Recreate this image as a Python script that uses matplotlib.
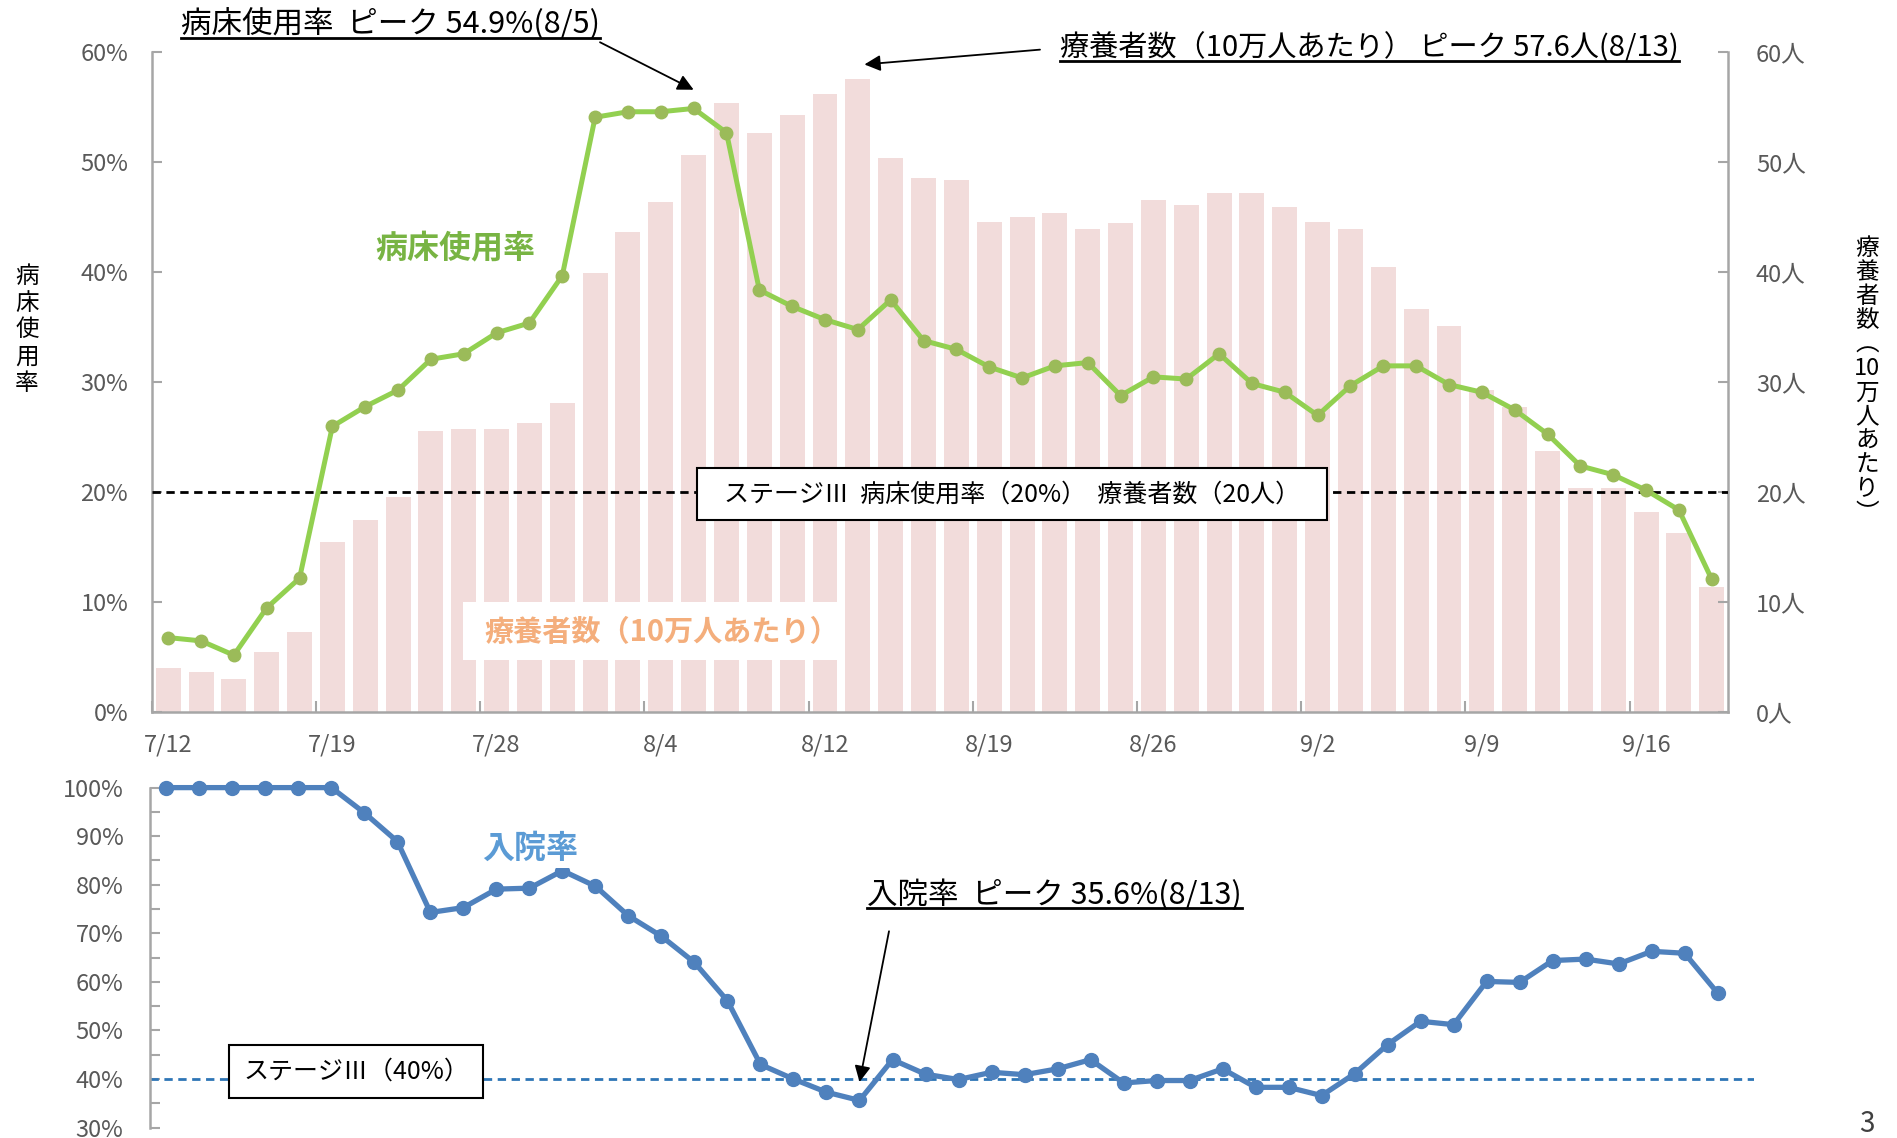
import numpy as np
import matplotlib
matplotlib.use('Agg')
import matplotlib.pyplot as plt
from matplotlib.lines import Line2D
from matplotlib.patches import Rectangle
from matplotlib.ticker import FixedLocator, MultipleLocator

plt.rcParams['font.family'] = ['Noto Sans CJK JP', 'DejaVu Sans']

# business days, 7/12 - 9/21
dates = ['7/12', '7/13', '7/14', '7/15', '7/16', '7/19', '7/20', '7/21',
         '7/26', '7/27', '7/28', '7/29', '7/30', '8/2', '8/3', '8/4', '8/5',
         '8/6', '8/10', '8/11', '8/12', '8/13', '8/16', '8/17', '8/18', '8/19',
         '8/20', '8/23', '8/24', '8/25', '8/26', '8/27', '8/30', '8/31', '9/1',
         '9/2', '9/3', '9/6', '9/7', '9/8', '9/9', '9/10', '9/13', '9/14',
         '9/15', '9/16', '9/17', '9/21']

# 療養者数 (10万人あたり)
ryoyo = [4.0, 3.7, 3.0, 5.5, 7.3, 15.5, 17.5, 19.6, 25.6, 25.8,
         25.8, 26.3, 28.1, 39.9, 43.7, 46.4, 50.7, 55.4, 52.7, 54.3,
         56.2, 57.6, 50.4, 48.6, 48.4, 44.6, 45.0, 45.4, 43.9, 44.5,
         46.6, 46.1, 47.2, 47.2, 45.9, 44.6, 43.9, 40.5, 36.7, 35.1,
         29.3, 27.8, 23.8, 20.4, 20.4, 18.2, 16.3, 11.4]

# 病床使用率 (%)
byosho = [6.8, 6.5, 5.2, 9.5, 12.2, 26.0, 27.8, 29.3, 32.1, 32.6,
          34.5, 35.4, 39.7, 54.1, 54.6, 54.6, 54.9, 52.7, 38.4, 36.9,
          35.7, 34.8, 37.5, 33.8, 33.0, 31.4, 30.4, 31.5, 31.8, 28.8,
          30.5, 30.3, 32.6, 29.9, 29.1, 27.0, 29.7, 31.5, 31.5, 29.8,
          29.1, 27.5, 25.3, 22.4, 21.6, 20.2, 18.4, 12.1]

# 入院率 (%)
nyuin = [100, 100, 100, 100, 100, 100, 94.8, 88.9, 74.3, 75.3,
         79.1, 79.3, 82.9, 79.7, 73.6, 69.4, 64.0, 56.1, 43.0, 40.0,
         37.3, 35.6, 44.0, 41.0, 39.9, 41.4, 40.9, 42.1, 44.0, 39.2,
         39.7, 39.7, 42.1, 38.3, 38.3, 36.6, 41.1, 47.1, 51.9, 51.2,
         60.1, 59.9, 64.4, 64.7, 63.7, 66.3, 65.9, 57.7]

label_every = 5
GRAY = '#A6A6A6'
TXT = '#595959'

x = np.arange(len(dates))

fig = plt.figure(figsize=(18.97, 11.38), dpi=100)

# ---- top chart ----
ax = fig.add_axes([0.080, 0.374, 0.831, 0.580])
ax_r = ax.twinx()
ax.set_zorder(ax_r.get_zorder() + 1)
ax.patch.set_visible(False)

ax_r.bar(x, ryoyo, width=0.76, color='#F2DCDB', zorder=1)
ax.plot(x, byosho, color='#92D050', lw=3.6, marker='o', ms=9,
        mfc='#9BBB59', mec='#9BBB59', zorder=5)
ax.axhline(20, color='black', lw=2, ls=(0, (3, 2)), zorder=3)

ax.set_xlim(-0.5, len(dates) - 0.5)
ax.set_ylim(0, 60)
ax_r.set_ylim(0, 60)

ax.yaxis.set_major_locator(MultipleLocator(10))
ax_r.yaxis.set_major_locator(MultipleLocator(10))
ax.set_yticklabels([f'{int(v)}%' for v in ax.get_yticks()])
ax_r.set_yticklabels([f'{int(v)}人' for v in ax_r.get_yticks()])

ax.xaxis.set_major_locator(FixedLocator(np.arange(-0.5, len(dates) - 1, label_every)))
ax.xaxis.set_minor_locator(FixedLocator(x[::label_every]))
ax.set_xticklabels([])
ax.set_xticklabels(dates[::label_every], minor=True)
ax.tick_params(axis='x', which='major', direction='in', length=8, color=GRAY, width=1.5)
ax.tick_params(axis='x', which='minor', length=0, pad=15, labelsize=17, labelcolor=TXT)
ax.tick_params(axis='y', direction='in', length=7, color=GRAY, width=1.5,
               labelsize=17, labelcolor=TXT, pad=17)
ax_r.tick_params(axis='y', direction='in', length=7, color=GRAY, width=1.5,
                 labelsize=17, labelcolor=TXT, pad=20)

for s in ['top', 'right']:
    ax.spines[s].set_visible(False)
for s in ['top', 'left', 'bottom']:
    ax_r.spines[s].set_visible(False)
for a, s in [(ax, 'left'), (ax, 'bottom'), (ax_r, 'right')]:
    a.spines[s].set_color(GRAY)
    a.spines[s].set_linewidth(1.8)

# ---- bottom chart ----
bx = fig.add_axes([0.079, 0.0091, 0.8456, 0.2988])
bx.plot(x, nyuin, color='#4F81BD', lw=3.8, marker='o', ms=10,
        mfc='#4F81BD', mec='#4F81BD', clip_on=False, zorder=5)
bx.axhline(40, color='#2E75B6', lw=2, ls=(0, (3, 2)), zorder=2)
bx.set_xlim(-0.5, 48.1)
bx.set_ylim(30, 100)
bx.yaxis.set_major_locator(MultipleLocator(10))
bx.yaxis.set_minor_locator(MultipleLocator(5))
bx.set_yticklabels([f'{int(v)}%' for v in bx.get_yticks()])
bx.tick_params(axis='y', which='both', direction='in', length=7, color=GRAY, width=1.5,
               labelsize=17, labelcolor=TXT, pad=19)
bx.set_xticks([])
for s in ['top', 'right', 'bottom']:
    bx.spines[s].set_visible(False)
bx.spines['left'].set_color(GRAY)
bx.spines['left'].set_linewidth(1.8)

W, H = 1897.0, 1138.0


def fx(px):
    return px / W


def fy(py):
    return 1 - py / H


# series labels
fig.text(fx(455), fy(248), '病床使用率', color='#78B443', fontsize=23,
         fontweight='bold', ha='center', va='center')
fig.add_artist(Rectangle((fx(463), fy(660)), fx(374), 58 / H, facecolor='white',
                         edgecolor='none', transform=fig.transFigure, zorder=2))
fig.text(fx(662), fy(632), '療養者数（10万人あたり）', color='#F4AE7C', fontsize=21,
         fontweight='bold', ha='center', va='center', zorder=3)
fig.text(fx(530), fy(849), '入院率', color='#5B9BD5', fontsize=23,
         fontweight='bold', ha='center', va='center',
         bbox=dict(facecolor='white', edgecolor='none', pad=2), zorder=4)

# stage boxes
fig.add_artist(Rectangle((fx(697), fy(520)), fx(630), 52 / H, facecolor='white',
                         edgecolor='black', lw=1.5, transform=fig.transFigure, zorder=6))
fig.text(fx(1012), fy(495), 'ステージⅢ  病床使用率（20%）  療養者数（20人）',
         fontsize=18, ha='center', va='center', zorder=7)
fig.add_artist(Rectangle((fx(229), fy(1098)), fx(254), 53 / H, facecolor='white',
                         edgecolor='black', lw=1.5, transform=fig.transFigure, zorder=6))
fig.text(fx(356), fy(1072), 'ステージⅢ（40%）', fontsize=18, ha='center',
         va='center', zorder=7)

# axis titles (vertical)
fig.text(fx(27), fy(330), '\n'.join('病床使用率'), fontsize=17, ha='center',
         va='center', linespacing=1.22)
fig.text(fx(1867), fy(381), '\n'.join(['療', '養', '者', '数', '︵', '10', '万',
                                       '人', 'あ', 'た', 'り', '︶']),
         fontsize=17, ha='center', va='center', linespacing=1.06)

fig.text(fx(1867), fy(1124), '3', fontsize=20, color='#404040', ha='center', va='center')

# peak notes
t1 = fig.text(fx(181), fy(24), '病床使用率  ピーク 54.9%(8/5)', fontsize=22,
              ha='left', va='center')
t2 = fig.text(fx(1060), fy(48), '療養者数（10万人あたり） ピーク 57.6人(8/13)',
              fontsize=21, ha='left', va='center')
t3 = fig.text(fx(867), fy(895), '入院率  ピーク 35.6%(8/13)', fontsize=22,
              ha='left', va='center')

fig.canvas.draw()
inv = fig.transFigure.inverted()
boxes = []
for t in (t1, t2, t3):
    bb = t.get_window_extent().transformed(inv)
    boxes.append(bb)
    fig.add_artist(Line2D([bb.x0, bb.x1], [bb.y0 + 0.002, bb.y0 + 0.002], color='black',
                          lw=2, transform=fig.transFigure))

arrow = dict(arrowstyle='-|>', color='black', lw=1.3, mutation_scale=24,
             shrinkA=0, shrinkB=0)
b1, b2, b3 = boxes
ax.annotate('', xy=(16, 56.6), xytext=(b1.x1, b1.y0 - 0.002), textcoords='figure fraction',
            arrowprops=arrow, annotation_clip=False)
ax.annotate('', xy=(21.2, 58.9), xytext=(b2.x0 - fx(20), b2.y0 + 0.012),
            textcoords='figure fraction', arrowprops=arrow, annotation_clip=False)
bx.annotate('', xy=(21, 39.4), xytext=(b3.x0 + fx(22), b3.y0 - 0.018),
            textcoords='figure fraction', arrowprops=arrow, annotation_clip=False)

fig.savefig('out.png', dpi=100)
